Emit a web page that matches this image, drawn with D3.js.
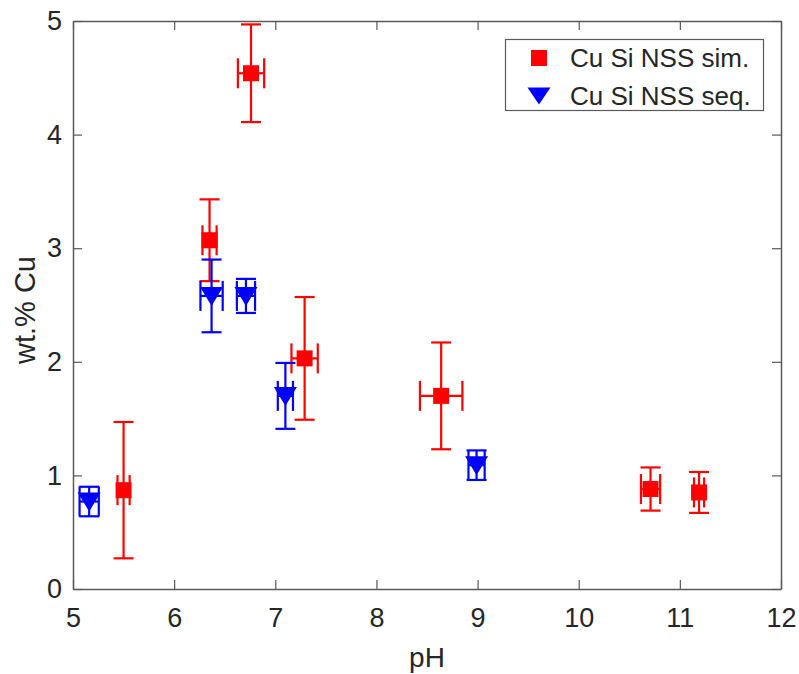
<!DOCTYPE html>
<html>
<head>
<meta charset="utf-8">
<script src="https://cdn.jsdelivr.net/npm/d3@7"></script>
<style>
  body { margin: 0; background: #fff; }
  svg { display: block; font-family: "Liberation Sans", Arial, Helvetica, sans-serif; }
</style>
</head>
<body>
<svg id="chart" width="799" height="674"></svg>
<script>
// Cu Si NSS — wt.% Cu vs pH, two series with x and y error bars

const simPH    = [5.50, 6.35, 6.76, 7.29, 8.64, 10.71, 11.19];
const simCu    = [0.87, 3.07, 4.54, 2.03, 1.70, 0.88, 0.85];
const simCuErr = [0.60, 0.36, 0.43, 0.54, 0.47, 0.19, 0.18];
const simPHErr = [0.06, 0.07, 0.13, 0.13, 0.21, 0.095, 0.05];

const seqPH    = [5.16, 6.37, 6.71, 7.10, 8.99];
const seqCu    = [0.77, 2.58, 2.58, 1.70, 1.09];
const seqCuErr = [0.13, 0.32, 0.15, 0.29, 0.13];
const seqPHErr = [0.095, 0.11, 0.09, 0.075, 0.08];

const xTicks = [5, 6, 7, 8, 9, 10, 11, 12];
const yTicks = [0, 1, 2, 3, 4, 5];

const seriesNames = ['Cu Si NSS sim.', 'Cu Si NSS seq.'];

const W = 799, H = 674;
const margin = { left: 73, top: 21, right: 18, bottom: 85 };
const axisColor = '#5a5a5a';
const textColor = '#262626';

const svg = d3.select('#chart');

const x = d3.scaleLinear().domain([5, 12]).range([margin.left, W - margin.right]);
const y = d3.scaleLinear().domain([0, 5]).range([H - margin.bottom, margin.top]);

const x0 = x.range()[0], x1 = x.range()[1];
const y0 = y.range()[0], y1 = y.range()[1];

// axes (box with inward ticks on all four sides)
const tickLen = 9;
const fmt = d3.format('d');
const axB = svg.append('g').attr('transform', `translate(0,${y0})`)
  .call(d3.axisBottom(x).tickValues(xTicks).tickFormat(fmt).tickSizeInner(-tickLen).tickSizeOuter(0).tickPadding(19));
const axT = svg.append('g').attr('transform', `translate(0,${y1})`)
  .call(d3.axisTop(x).tickValues(xTicks).tickSizeInner(-tickLen).tickSizeOuter(0).tickFormat(''));
const axL = svg.append('g').attr('transform', `translate(${x0},0)`)
  .call(d3.axisLeft(y).tickValues(yTicks).tickFormat(fmt).tickSizeInner(-tickLen).tickSizeOuter(0).tickPadding(11));
const axR = svg.append('g').attr('transform', `translate(${x1},0)`)
  .call(d3.axisRight(y).tickValues(yTicks).tickSizeInner(-tickLen).tickSizeOuter(0).tickFormat(''));

[axB, axT, axL, axR].forEach(a => {
  a.select('.domain').attr('stroke', axisColor).attr('stroke-width', 1.5);
  a.selectAll('.tick line').attr('stroke', axisColor).attr('stroke-width', 1.2);
  a.selectAll('.tick text').attr('fill', textColor).attr('font-size', 27)
    .attr('font-family', '"Liberation Sans", Arial, sans-serif');
});
axB.selectAll('.tick text').attr('dy', '0.71em');

// axis labels
svg.append('text')
  .attr('x', (x0 + x1) / 2).attr('y', 667)
  .attr('text-anchor', 'middle').attr('font-size', 28).attr('fill', textColor)
  .text('pH');
svg.append('text')
  .attr('transform', `translate(35,310) rotate(-90)`)
  .attr('text-anchor', 'middle').attr('font-size', 29).attr('fill', textColor)
  .text('wt.% Cu');

// error bars + markers
function drawSeries(px, py, pyErr, pxErr, color, marker) {
  const g = svg.append('g');
  const data = px.map((v, i) => ({ x: v, y: py[i], ey: pyErr[i], ex: pxErr[i] }));
  const capY = 10, capX = 15;
  const sw = 2.2;

  data.forEach(d => {
    const cx = x(d.x), cy = y(d.y);
    const yTop = y(d.y + d.ey), yBot = y(d.y - d.ey);
    const xL = x(d.x - d.ex), xR = x(d.x + d.ex);
    const lines = [
      [cx, yTop, cx, yBot],
      [cx - capY, yTop, cx + capY, yTop],
      [cx - capY, yBot, cx + capY, yBot],
      [xL, cy, xR, cy],
      [xL, cy - capX, xL, cy + capX],
      [xR, cy - capX, xR, cy + capX]
    ];
    lines.forEach(l => {
      g.append('line')
        .attr('x1', l[0]).attr('y1', l[1]).attr('x2', l[2]).attr('y2', l[3])
        .attr('stroke', color).attr('stroke-width', sw);
    });
  });

  g.selectAll('path.marker')
    .data(data)
    .join('path')
    .attr('class', 'marker')
    .attr('transform', d => `translate(${x(d.x)},${y(d.y)})`)
    .attr('d', marker)
    .attr('fill', color);
}

const squarePath = 'M-8,-8H8V8H-8Z';
const trianglePath = 'M-11.5,-9H11.5L0,10Z';

drawSeries(simPH, simCu, simCuErr, simPHErr, '#ff0000', squarePath);
drawSeries(seqPH, seqCu, seqCuErr, seqPHErr, '#0000ff', trianglePath);

// legend
const lg = svg.append('g');
lg.append('rect')
  .attr('x', 505.5).attr('y', 39.5).attr('width', 258).attr('height', 71)
  .attr('fill', '#fff').attr('stroke', axisColor).attr('stroke-width', 1.2);
const legendItems = [
  { name: seriesNames[0], color: '#ff0000', marker: squarePath, cy: 58 },
  { name: seriesNames[1], color: '#0000ff', marker: 'M-11.5,-8.5H11.5L0,8.5Z', cy: 96 }
];
legendItems.forEach(it => {
  lg.append('path')
    .attr('transform', `translate(539,${it.cy})`)
    .attr('d', it.marker).attr('fill', it.color);
  lg.append('text')
    .attr('x', 570).attr('y', it.cy + 9)
    .attr('font-size', 26).attr('fill', textColor)
    .text(it.name);
});
</script>
</body>
</html>
